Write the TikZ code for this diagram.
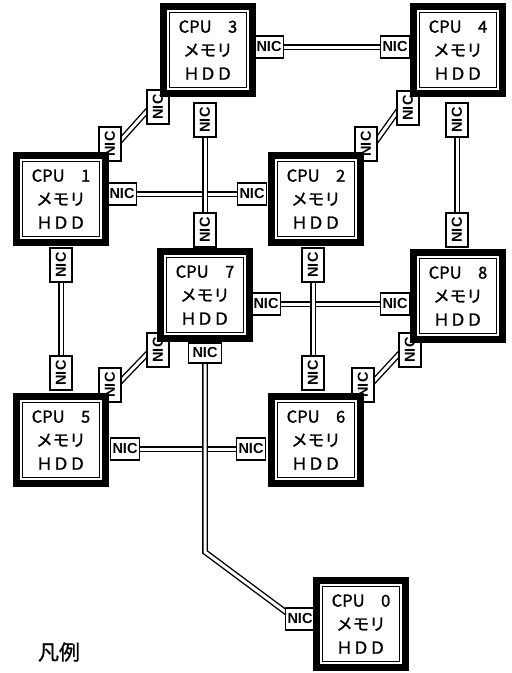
\documentclass[tikz,border=0pt]{standalone}
\usepackage{fontspec}
\newfontfamily\jp{Noto Sans CJK JP}[FakeBold=1.3]
\newfontfamily\jpl{Noto Sans CJK JP}[FakeBold=0.8]
\newfontfamily\nicf{Liberation Sans}
\begin{document}
\begin{tikzpicture}[x=1pt,y=-1pt,
  cpu/.style={draw=black, fill=white, line width=7pt, minimum width=89pt, minimum height=87pt,
    inner sep=0pt, align=center, font=\jp\fontsize{16.5}{23.5}\selectfont,
    path picture={\draw[line width=1.2pt]
      ([xshift=6.3pt,yshift=6.3pt]path picture bounding box.south west) rectangle
      ([xshift=-6.3pt,yshift=-6.3pt]path picture bounding box.north east);}},
  nich/.style={draw=black, fill=white, line width=1.3pt, inner sep=0pt,
    minimum width=29pt, minimum height=22pt, font=\nicf\bfseries\fontsize{14.5}{14.5}\selectfont},
  nicv/.style={nich, rotate=90, minimum width=34pt, minimum height=22pt},
  link/.style={draw=black, line width=1.4pt, double=white, double distance=3pt,
    shorten <=-3pt, shorten >=-3pt},
]
\useasboundingbox (0,0) rectangle (512,673);
% NIC positions
\coordinate (p3r) at (269,47);  \coordinate (p3b) at (205,120); \coordinate (p3bl) at (158,107);
\coordinate (p4l) at (395,47);  \coordinate (p4b) at (457,120); \coordinate (p4bl) at (408,108);
\coordinate (p1r) at (122,194); \coordinate (p1b) at (61,265);  \coordinate (p1tr) at (110,144);
\coordinate (p2l) at (252,194); \coordinate (p2b) at (313,265); \coordinate (p2tr) at (366,144);
\coordinate (p7r) at (266,304); \coordinate (p7t) at (205,230); \coordinate (p7bl) at (158,350); \coordinate (p7b) at (205,353);
\coordinate (p8l) at (395,304); \coordinate (p8t) at (457,230); \coordinate (p8bl) at (410,350);
\coordinate (p5r) at (125,449); \coordinate (p5t) at (61,373);  \coordinate (p5tr) at (110,385);
\coordinate (p6l) at (251,449); \coordinate (p6t) at (313,373); \coordinate (p6tr) at (363,385);
\coordinate (p0l) at (300,619);
% links (drawn first, NIC boxes cover the ends)
\draw[link] (p3r) -- (p4l);
\draw[link] (p1r) -- (p2l);
\draw[link] (p7r) -- (p8l);
\draw[link] (p5r) -- (p6l);
\draw[link] (p1b) -- (p5t);
\draw[link] (p3b) -- (p7t);
\draw[link] (p2b) -- (p6t);
\draw[link] (p4b) -- (p8t);
\draw[link] ([shift={(11,-4)}]p1tr) -- ([shift={(-11,4)}]p3bl);
\draw[link] ([shift={(11,-4)}]p2tr) -- ([shift={(-11,4)}]p4bl);
\draw[link] ([shift={(11,-4)}]p5tr) -- ([shift={(-11,4)}]p7bl);
\draw[link] ([shift={(11,-4)}]p6tr) -- ([shift={(-11,4)}]p8bl);
\coordinate (bend) at (205,552);
\draw[link, line join=miter] (p7b) -- (bend) -- ([shift={(-13,-6)}]p0l);
% NIC boxes
\node[nich] (n3r) at (p3r) {NIC};
\node[nicv] (n3b) at (p3b) {NIC};
\node[nicv] (n3bl) at (p3bl) {NIC};
\node[nich] (n4l) at (p4l) {NIC};
\node[nicv] (n4b) at (p4b) {NIC};
\node[nicv] (n4bl) at (p4bl) {NIC};
\node[nich] (n1r) at (p1r) {NIC};
\node[nicv] (n1b) at (p1b) {NIC};
\node[nicv] (n1tr) at (p1tr) {NIC};
\node[nich] (n2l) at (p2l) {NIC};
\node[nicv] (n2b) at (p2b) {NIC};
\node[nicv] (n2tr) at (p2tr) {NIC};
\node[nich] (n7r) at (p7r) {NIC};
\node[nicv] (n7t) at (p7t) {NIC};
\node[nicv] (n7bl) at (p7bl) {NIC};
\node[nich, minimum width=33pt, minimum height=20pt] (n7b) at (p7b) {NIC};
\node[nich] (n8l) at (p8l) {NIC};
\node[nicv] (n8t) at (p8t) {NIC};
\node[nicv] (n8bl) at (p8bl) {NIC};
\node[nich] (n5r) at (p5r) {NIC};
\node[nicv] (n5t) at (p5t) {NIC};
\node[nicv] (n5tr) at (p5tr) {NIC};
\node[nich] (n6l) at (p6l) {NIC};
\node[nicv] (n6t) at (p6t) {NIC};
\node[nicv] (n6tr) at (p6tr) {NIC};
\node[nich] (n0l) at (p0l) {NIC};
% CPU boxes
\node[cpu] (c3) at (208,50)  {CPU　3\\メモリ\\ＨＤＤ};
\node[cpu] (c4) at (458,50)  {CPU　4\\メモリ\\ＨＤＤ};
\node[cpu] (c1) at (61,199)  {CPU　1\\メモリ\\ＨＤＤ};
\node[cpu] (c2) at (316,199) {CPU　2\\メモリ\\ＨＤＤ};
\node[cpu] (c7) at (205,295) {CPU　7\\メモリ\\ＨＤＤ};
\node[cpu] (c8) at (458,296) {CPU　8\\メモリ\\ＨＤＤ};
\node[cpu] (c5) at (61,440)  {CPU　5\\メモリ\\ＨＤＤ};
\node[cpu] (c6) at (316,440) {CPU　6\\メモリ\\ＨＤＤ};
\node[cpu] (c0) at (361,624) {CPU　0\\メモリ\\ＨＤＤ};
% legend
\node[font=\jpl\fontsize{21}{21}\selectfont] (legend) at (59,652) {凡例};
\end{tikzpicture}
\end{document}
